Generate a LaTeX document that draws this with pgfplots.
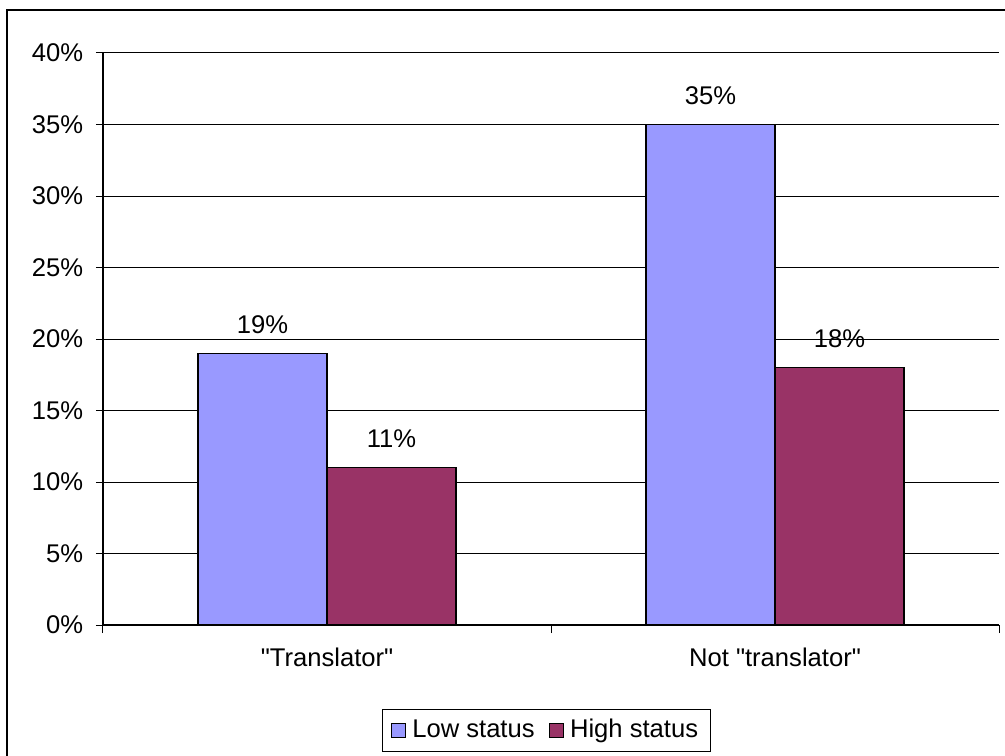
\documentclass[border=0pt]{standalone}
\usepackage{fontspec}
\setmainfont{Liberation Sans}[Ligatures=TeXOff]
\usepackage{pgfplots}
\pgfplotsset{compat=1.18}

\definecolor{lowst}{HTML}{9999FF}
\definecolor{highst}{HTML}{993366}

\begin{document}
\fontsize{12.8}{15}\selectfont
\begin{tikzpicture}
\useasboundingbox (-51.5pt,-65pt) rectangle (451pt,312.5pt);
\begin{axis}[
    scale only axis,
    width=448pt, height=286pt,
    ybar=0pt,
    bar width=64.5pt,
    xmin=-0.5, xmax=1.5,
    ymin=0, ymax=40,
    xtick={0,1},
    xticklabels={"Translator", Not "translator"},
    minor xtick={-0.5,0.5,1.5},
    ytick={0,5,...,40},
    yticklabel={\pgfmathprintnumber{\tick}\%},
    /pgf/number format/assume math mode=true,
    axis x line*=bottom,
    axis y line*=left,
    axis line style={black, line width=0.6pt, -},
    tick align=outside,
    major tick length=3.5pt,
    minor tick length=4pt,
    xtick style={draw=none},
    minor x tick style={draw=black, line width=0.5pt},
    ytick style={black, line width=0.5pt},
    ymajorgrids,
    grid style={black, line width=0.5pt},
    yticklabel style={xshift=-2pt},
    xticklabel style={yshift=-3.5pt},
    nodes near coords={\pgfmathprintnumber{\pgfplotspointmeta}\%},
    every node near coord/.append style={anchor=base, yshift=10pt, black},
    legend columns=2,
    legend style={at={(0.495,-0.1844)}, anchor=center, draw=black, line width=0.5pt,
        inner xsep=4pt, inner ysep=3pt,
        /tikz/every odd column/.append style={column sep=1pt},
        /tikz/every even column/.append style={column sep=5pt}},
    legend image code/.code={\draw[#1, line width=0.7pt] (0pt,-3.5pt) rectangle (7pt,3.5pt);},
]
\addplot[fill=lowst, draw=black, line width=0.75pt] coordinates {(0,19) (1,35)};
\addlegendentry{Low status}
\addplot[fill=highst, draw=black, line width=0.75pt] coordinates {(0,11) (1,18)};
\addlegendentry{High status}
\end{axis}
\draw[black, line width=1pt] (-48pt,-80pt) -- (-48pt,307.5pt) -- (470pt,307.5pt);
\end{tikzpicture}
\end{document}
